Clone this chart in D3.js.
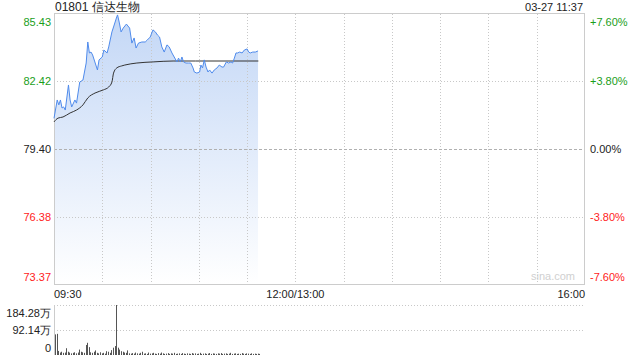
<!DOCTYPE html>
<html>
<head>
<meta charset="utf-8">
<script src="https://cdn.jsdelivr.net/npm/d3@7"></script>
<style>
  html, body { margin: 0; padding: 0; background: #fff; }
  svg { display: block; font-family: 'Liberation Sans', Arial, sans-serif; }
</style>
</head>
<body>
<div id="wrapper"></div>
<script>
// minutes since 09:30 (trading minutes) and last price
const priceMinutes = [0, 2, 3, 4, 5, 6, 7, 9, 10, 11, 13, 14, 16, 17, 18, 20, 21, 22, 23, 24,
  27, 28, 30, 31, 33, 34, 36, 37, 39, 39.5, 40.5, 41.7, 43, 45, 47, 48.4, 49.8, 51, 52.5, 54.6,
  56.7, 58, 59.8, 61.5, 63, 64.3, 65.6, 67, 68.5, 70.2, 71.6, 73.3, 74.7, 76.4, 77.4, 78.5, 79.5, 80.5, 82, 83.6,
  85, 86.4, 87.2, 88.8, 90.5, 91.3, 92.3, 93.4, 94.5, 95.7, 96.7, 98.2, 99.6, 101.3, 102.7, 104.4, 105.4, 107.1, 108.5, 110,
  111, 112.1, 113.1, 114.1, 115.4, 116.9, 118.3, 120, 121, 122, 123.5, 125.1, 126.8]
const prices = [80.77, 81.59, 81.37, 81.59, 81.23, 81.28, 81.14, 82.26, 81.59, 81.28, 81.59, 81.45, 82.39, 82.44, 82.48, 83.24, 84.18, 83.69, 83.73, 83.60,
  82.93, 83.38, 83.51, 83.82, 83.69, 83.96, 84.63, 84.85, 85.30, 85.39, 85.07, 84.63, 84.80, 84.98, 84.80, 84.13, 84.36, 83.91, 84.13, 84.18,
  84.18, 84.27, 84.40, 84.72, 84.63, 84.49, 84.40, 83.96, 83.73, 84.05, 83.96, 83.69, 83.51, 83.29, 83.46, 83.29, 83.51, 83.29, 83.24, 83.24,
  83.24, 83.02, 82.84, 82.79, 82.84, 83.15, 83.02, 83.38, 83.06, 82.84, 82.93, 82.79, 82.93, 83.02, 83.15, 83.06, 83.06, 83.29, 83.24, 83.29,
  83.24, 83.46, 83.69, 83.69, 83.73, 83.69, 83.82, 83.87, 83.73, 83.69, 83.73, 83.73, 83.78]

// average price line
const avgMinutes = [0, 2.5, 5.6, 10, 14, 18, 21, 25.5, 30.7, 34, 36, 37, 39, 42, 44, 51.5, 61.6, 74, 88, 127]
const avgPrices = [80.61, 80.78, 80.83, 81.01, 81.14, 81.37, 81.68, 81.90, 82.04, 82.17, 82.39, 82.79, 83.02, 83.11, 83.15, 83.24, 83.29, 83.33, 83.33, 83.33]

// volume per minute, in 万
const volumes = [76, 78, 15, 9, 12, 8, 9, 25, 12, 9,
  6, 8, 10, 6, 9, 20, 12, 10, 8, 37,
  45, 29, 10, 8, 12, 17, 8, 6, 10, 6,
  8, 5, 14, 12, 8, 18, 27, 33, 184.28, 27,
  20, 14, 12, 9, 8, 17, 6, 5, 7, 5,
  9, 6, 5, 8, 12, 5, 6, 4, 9, 5,
  6, 8, 5, 4, 7, 5, 9, 6, 4, 5,
  7, 4, 6, 5, 8, 4, 5, 6, 4, 7,
  5, 4, 6, 5, 4, 7, 5, 6, 4, 5,
  8, 4, 5, 6, 4, 5, 7, 4, 6, 5,
  4, 6, 5, 7, 4, 5, 6, 4, 5, 8,
  4, 5, 6, 4, 5, 4, 7, 5, 4, 6,
  5, 4, 6, 4, 5, 4, 5, 4]

const priceTicks = [85.43, 82.42, 79.40, 76.38, 73.37]
const pctLabels = ['+7.60%', '+3.80%', '0.00%', '-3.80%', '-7.60%']
const volTicks = [184.28, 92.14, 0]
const volLabels = ['184.28万', '92.14万', '0']
const timeTicks = [0, 150, 330]
const timeLabels = ['09:30', '12:00/13:00', '16:00']
const prevClose = 79.40

const green = '#1a9e1a'
const red = '#ff2222'

const dims = {
  width: 640, height: 360,
  left: 54, right: 585,
  top: 14, bottom: 284,
  volTop: 305, volBottom: 355,
}

const xScale = d3.scaleLinear().domain([0, 330]).range([dims.left, dims.right])
const yScale = d3.scaleLinear().domain([73.37, 85.43]).range([dims.bottom, dims.top])
const vScale = d3.scaleLinear().domain([0, 184.28]).range([dims.volBottom, dims.volTop])

const svg = d3.select('#wrapper').append('svg')
  .attr('width', dims.width).attr('height', dims.height)

// gradient for area fill
const grad = svg.append('defs').append('linearGradient')
  .attr('id', 'areaGrad').attr('gradientUnits', 'userSpaceOnUse')
  .attr('x1', 0).attr('x2', 0).attr('y1', dims.top).attr('y2', dims.bottom)
grad.append('stop').attr('offset', '0%').attr('stop-color', '#c3d7f6')
grad.append('stop').attr('offset', '100%').attr('stop-color', '#ffffff')

// area + lines
const priceData = priceMinutes.map((m, i) => ({ m, p: prices[i] }))
const avgData = avgMinutes.map((m, i) => ({ m, p: avgPrices[i] }))

svg.append('path')
  .datum(priceData)
  .attr('fill', 'url(#areaGrad)')
  .attr('d', d3.area().x(d => xScale(d.m)).y0(dims.bottom).y1(d => yScale(d.p)))

// grid
const grid = svg.append('g')
d3.range(30, 330, 30).forEach(m => {
  grid.append('line')
    .attr('x1', Math.round(xScale(m)) + 0.5).attr('x2', Math.round(xScale(m)) + 0.5)
    .attr('y1', dims.top).attr('y2', dims.bottom)
    .attr('stroke', '#c8c8c8').attr('stroke-dasharray', '1,2')
})
priceTicks.slice(1, 4).forEach(t => {
  grid.append('line')
    .attr('x1', dims.left).attr('x2', dims.right)
    .attr('y1', Math.round(yScale(t)) + 0.5).attr('y2', Math.round(yScale(t)) + 0.5)
    .attr('stroke', t === prevClose ? '#b0b0b0' : '#c8c8c8')
    .attr('stroke-dasharray', t === prevClose ? '3,2' : '1,2')
})

// frame
svg.append('rect')
  .attr('x', dims.left + 0.5).attr('y', dims.top - 0.5)
  .attr('width', dims.right - dims.left - 1).attr('height', dims.bottom - dims.top + 1)
  .attr('fill', 'none').attr('stroke', '#cccccc')

svg.append('path')
  .datum(avgData)
  .attr('fill', 'none').attr('stroke', '#333').attr('stroke-width', 1)
  .attr('d', d3.line().curve(d3.curveMonotoneX).x(d => xScale(d.m)).y(d => yScale(d.p)))

svg.append('path')
  .datum(priceData)
  .attr('fill', 'none').attr('stroke', '#4f8bec').attr('stroke-width', 1)
  .attr('d', d3.line().x(d => xScale(d.m)).y(d => yScale(d.p)))

// left price labels
const colorFor = (t) => t > prevClose ? green : (t < prevClose ? red : '#222')
const labelDy = (i, n) => i === 0 ? 12 : (i === n - 1 ? -3 : 4)
svg.append('g').selectAll('text').data(priceTicks).join('text')
  .attr('x', dims.left - 3).attr('y', (d, i) => yScale(d) + labelDy(i, priceTicks.length))
  .attr('text-anchor', 'end').attr('font-size', 11)
  .attr('fill', d => colorFor(d))
  .text(d => d.toFixed(2))

svg.append('g').selectAll('text').data(pctLabels).join('text')
  .attr('x', dims.right + 5).attr('y', (d, i) => yScale(priceTicks[i]) + labelDy(i, priceTicks.length))
  .attr('text-anchor', 'start').attr('font-size', 11)
  .attr('fill', (d, i) => colorFor(priceTicks[i]))
  .text(d => d)

// title and time
svg.append('text').attr('x', dims.left + 1).attr('y', 11)
  .attr('font-size', 12).attr('fill', '#222').text('01801 信达生物')
svg.append('text').attr('x', dims.right - 2).attr('y', 11)
  .attr('font-size', 11).attr('fill', '#222').attr('text-anchor', 'end').text('03-27 11:37')

// watermark
svg.append('text').attr('x', dims.right - 10).attr('y', dims.bottom - 4)
  .attr('font-size', 11).attr('fill', '#d0d0d0').attr('text-anchor', 'end').text('sina.com')

// time labels
svg.append('g').selectAll('text').data(timeTicks).join('text')
  .attr('x', d => xScale(d))
  .attr('y', 298)
  .attr('font-size', 11).attr('fill', '#222')
  .attr('text-anchor', (d, i) => i === 0 ? 'start' : (i === timeTicks.length - 1 ? 'end' : 'middle'))
  .text((d, i) => timeLabels[i])

// volume panel
volTicks.slice(0, 2).forEach(t => {
  svg.append('line')
    .attr('x1', dims.left).attr('x2', dims.right)
    .attr('y1', Math.round(vScale(t)) + 0.5).attr('y2', Math.round(vScale(t)) + 0.5)
    .attr('stroke', '#c8c8c8').attr('stroke-dasharray', '1,2')
})
svg.append('line')
  .attr('x1', dims.left + 0.5).attr('x2', dims.left + 0.5)
  .attr('y1', dims.volTop).attr('y2', dims.volBottom)
  .attr('stroke', '#cccccc')

svg.append('g').selectAll('rect').data(volumes).join('rect')
  .attr('x', (d, i) => Math.round(xScale(i)) + 1)
  .attr('y', d => vScale(d))
  .attr('width', 1)
  .attr('height', d => dims.volBottom - vScale(d))
  .attr('fill', '#555')

svg.append('g').selectAll('text').data(volTicks).join('text')
  .attr('x', dims.left - 3).attr('y', (d, i) => vScale(d) + labelDy(i, volTicks.length))
  .attr('text-anchor', 'end').attr('font-size', 11).attr('fill', '#222')
  .text((d, i) => volLabels[i])
</script>
</body>
</html>
